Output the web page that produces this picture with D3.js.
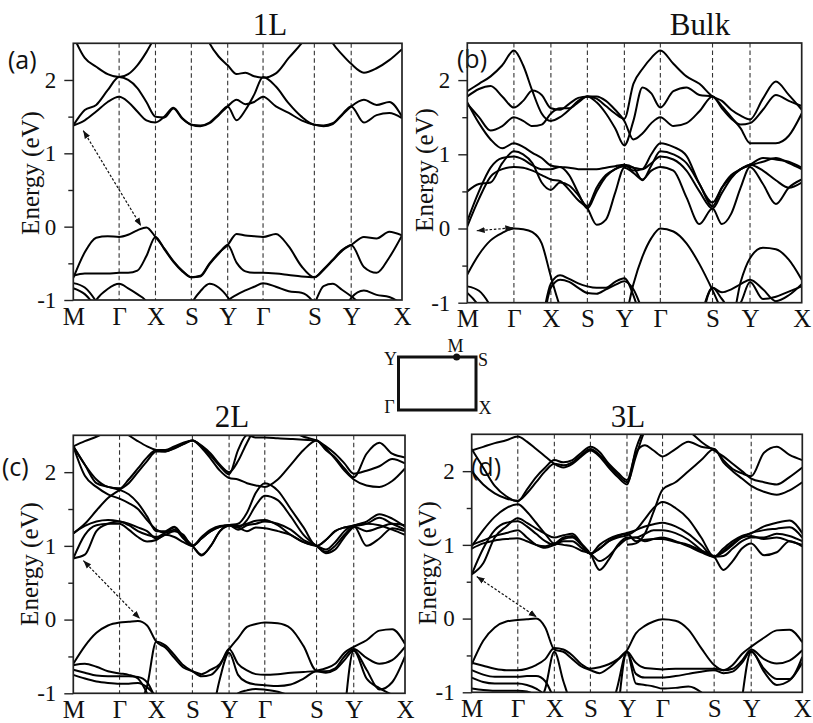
<!DOCTYPE html>
<html>
<head>
<meta charset="utf-8">
<script src="https://cdn.jsdelivr.net/npm/d3@7"></script>
<style>
  body { margin: 0; background: #fff; }
  svg { display: block; }
</style>
</head>
<body>
<svg id="fig" width="813" height="723"></svg>
<script>
// k-path sampling (path length units), high-symmetry nodes and their labels
const kGrid = [0, 11.5, 23, 34.5, 46, 55.1, 64.3, 73.4, 82.5, 91.5, 100.5, 109.5, 118.5,
  127.6, 136.8, 145.9, 155, 163.9, 172.8, 181.6, 190.5, 203.4, 216.3, 229.1, 242,
  251.25, 260.5, 269.75, 279, 291.75, 304.5, 317.25, 330];
const kNodes = [0, 46, 82.5, 118.5, 155, 190.5, 242, 279, 330];
const kLabels = ["M", "Γ", "X", "S", "Y", "Γ", "S", "Y", "X"];
const energyDomain = [-1, 2.5];
const energyTicks = [-1, 0, 1, 2];
const energyMinor = [-0.5, 0.5, 1.5];

// Band energies (eV) sampled on kGrid; null = no sample
const bands1L = [
  [-0.70,-0.35,-0.15,-0.13,-0.14, -0.11,-0.05,-0.01,-0.14, -0.30,-0.47,-0.60,-0.69, -0.67,-0.50,-0.36,-0.25, -0.10,-0.12,-0.13,-0.14, -0.10,-0.27,-0.54,-0.69, -0.58,-0.45,-0.32,-0.25, -0.14,-0.16,-0.07,-0.12],
  [-0.67,-0.64,-0.64,-0.64,-0.63, -0.63,-0.60,-0.40,-0.14, -0.31,-0.48,-0.61,-0.69, -0.68,-0.51,-0.37,-0.25, -0.49,-0.61,-0.63,-0.63, -0.64,-0.66,-0.68,-0.69, -0.59,-0.46,-0.33,-0.25, -0.55,-0.63,-0.42,-0.12],
  [-0.77,-0.83,-1.02,-1.30,null, null,null,null,null, null,null,-1.30,-1.05, -0.88,-0.78,-0.83,-0.96, -1.15,-1.30,null,null, null,null,-1.30,-1.05, -0.81,-0.78,-0.86,-0.95, -1.10,-1.30,null,null],
  [-0.84,-0.92,-1.10,-1.30,null, null,null,null,null, null,null,null,null, null,null,null,null, null,null,null,null, null,null,null,null, null,null,null,null, null,null,null,null],
  [null,-1.30,-1.00,-0.85,-0.78, -0.84,-0.92,-1.02,-1.30, null,null,null,null, null,null,-1.30,-1.02, -0.93,-0.87,-0.82,-0.77, -0.82,-0.88,-0.90,-1.05, -1.30,null,-1.30,-0.97, -0.87,-0.93,-0.96,-1.05],
  [1.38,1.45,1.57,1.70,1.77, 1.70,1.57,1.45,1.42, 1.50,1.62,1.48,1.39, 1.37,1.41,1.52,1.64, 1.73,1.67,1.70,1.77, 1.64,1.55,1.45,1.39, 1.37,1.40,1.52,1.64, 1.73,1.66,1.70,1.50],
  [1.38,1.59,1.66,1.86,2.04, 2.00,1.89,1.70,1.50, 1.49,1.61,1.47,1.39, 1.38,1.42,1.53,1.64, 1.45,1.59,1.80,2.04, 1.91,1.68,1.50,1.39, 1.38,1.41,1.53,1.64, 1.42,1.52,1.55,1.48],
  [2.60,2.30,2.18,2.08,2.04, 2.08,2.20,2.38,2.60, 2.80,null,null,null, 2.80,2.50,2.32,2.20, 2.08,2.10,2.05,2.03, 2.09,2.30,2.50,2.75, 2.75,2.50,2.35,2.22, 2.10,2.16,2.27,2.42]
];

const bandsBulk = [
  [-0.62,-0.35,-0.16,-0.06,0.00, -0.01,-0.05,-0.20,-0.65, -1.05,-1.30,null,null, null,null,-1.40,-1.25, -0.75,-0.38,-0.13,0.00, -0.04,-0.20,-0.48,-0.83, -1.10,-1.25,-0.72,-0.40, -0.26,-0.28,-0.42,-0.69],
  [-0.78,-0.84,-1.05,-1.40,null, null,null,-1.30,-0.74, -0.63,-0.68,-0.74,-0.78, -0.80,-0.80,-0.72,-0.67, -0.90,-1.30,null,null, null,-1.40,-1.20,-0.80, -0.86,-0.82,-0.75,-0.69, -0.82,-0.98,-0.90,-0.75],
  [-0.87,-1.05,-1.40,null,null, null,null,-1.40,-0.80, -0.69,-0.72,-0.80,-0.87, -0.88,-0.82,-0.76,-0.71, -0.82,-1.10,-1.40,null, null,null,-1.40,-0.80, -0.95,-1.10,-1.00,-0.72, -0.95,-0.92,-0.85,-0.78],
  [0.03,0.40,0.70,0.80,0.83, 0.82,0.78,0.72,0.66, 0.64,0.52,0.38,0.27, 0.05,0.12,0.48,0.82, 0.75,0.66,0.78,0.83, 0.78,0.42,0.06,0.27, 0.06,0.20,0.55,0.83, 0.60,0.33,0.55,0.66],
  [0.10,0.50,0.82,0.95,0.97, 0.93,0.85,0.80,0.80, 0.83,0.72,0.48,0.27, 0.50,0.70,0.80,0.84, 0.82,0.80,0.88,0.97, 0.93,0.78,0.50,0.27, 0.48,0.68,0.80,0.85, 0.90,0.95,0.88,0.80],
  [0.50,0.60,0.62,0.88,1.04, 1.00,0.88,0.62,0.52, 0.62,0.58,0.45,0.30, 0.55,0.72,0.80,0.86, 0.82,0.65,0.85,1.04, 1.00,0.88,0.60,0.30, 0.55,0.72,0.80,0.86, 0.78,0.65,0.55,0.62],
  [1.70,1.42,1.20,1.08,1.15, 1.10,1.02,0.95,0.85, 0.83,0.82,0.80,0.80, 0.80,0.82,0.84,0.86, 0.78,0.80,1.00,1.15, 1.10,0.98,0.60,0.35, 0.55,0.70,0.80,0.86, 0.95,0.93,0.90,0.82],
  [1.85,1.95,2.05,2.20,2.40, 2.20,1.85,1.55,1.45, 1.50,1.60,1.72,1.78, 1.75,1.65,1.55,1.48, 1.95,2.15,2.30,2.40, 2.22,2.05,1.95,1.78, 1.72,1.60,1.52,1.47, 1.75,1.98,1.80,1.60],
  [1.78,1.88,1.92,1.78,1.63, 1.72,1.86,1.80,1.62, 1.60,1.68,1.76,1.78, 1.70,1.55,1.35,1.12, 1.45,1.90,1.82,1.63, 1.85,1.90,1.80,1.78, 1.65,1.50,1.35,1.15, 1.15,1.15,1.25,1.55],
  [1.68,1.50,1.32,1.38,1.50, 1.45,1.38,1.40,1.55, 1.62,1.62,1.70,1.78, 1.78,1.72,1.60,1.45, 1.20,1.28,1.42,1.50, 1.38,1.42,1.58,1.78, 1.62,1.48,1.40,1.42, 1.60,1.80,1.72,1.65]
];

const bands2L = [
  [-0.60,-0.36,-0.18,-0.08,-0.04, -0.03,-0.02,-0.08,-0.30, -0.38,-0.52,-0.65,-0.70, -0.74,-0.68,-0.60,-0.40, -0.25,-0.10,-0.06,-0.04, -0.05,-0.12,-0.36,-0.69, -0.66,-0.60,-0.45,-0.37, -0.28,-0.15,-0.13,-0.33],
  [-0.62,-0.60,-0.64,-0.70,-0.73, -0.75,-0.80,-1.00,-1.30, null,null,null,null, null,null,null,null, null,null,null,null, null,null,null,null, null,null,null,null, null,null,null,null],
  [null,null,null,null,null, -1.50,-1.20,-0.90,-0.30, -0.35,-0.48,-0.62,-0.70, -0.77,-0.75,-0.62,-0.40, -0.60,-0.69,-0.74,-0.75, -0.74,-0.72,-0.71,-0.70, -0.70,-0.66,-0.50,-0.40, -0.52,-0.60,-0.55,-0.37],
  [-0.68,-0.72,-0.76,-0.77,-0.77, -0.77,-0.78,-0.85,-1.10, -1.40,null,null,null, null,-1.40,-0.80,-0.45, -0.75,-0.85,-0.88,-0.89, -0.90,-0.88,-0.80,-0.70, -0.72,-0.68,-0.55,-0.42, -0.68,-0.95,-0.85,-0.50],
  [-0.75,-0.80,-0.84,-0.86,-0.87, -0.87,-0.86,-0.92,-1.05, -1.30,null,null,null, null,null,null,-1.30, -1.00,-0.96,-0.94,-0.95, -0.98,-1.05,-1.30,null, null,null,-1.30,-0.42, -0.80,-0.93,-1.02,-1.10],
  [0.83,0.88,1.20,1.30,1.33, 1.28,1.20,1.15,1.12, 1.18,1.25,1.12,1.00, 0.87,1.00,1.20,1.28, 1.22,1.28,1.30,1.33, 1.30,1.22,1.08,1.00, 0.90,0.95,1.12,1.26, 1.33,1.43,1.37,1.26],
  [0.83,1.15,1.28,1.30,1.30, 1.22,1.12,1.06,1.08, 1.15,1.12,1.05,1.00, 1.12,1.22,1.27,1.28, 1.25,1.20,1.25,1.24, 1.20,1.15,1.05,1.00, 1.08,1.20,1.25,1.27, 1.00,1.10,1.24,1.20],
  [1.17,1.27,1.33,1.35,1.33, 1.30,1.25,1.20,1.10, 1.15,1.20,1.15,1.00, 1.10,1.20,1.26,1.28, 1.27,1.30,1.34,1.35, 1.28,1.15,1.05,1.00, 0.95,1.05,1.20,1.28, 1.30,1.28,1.22,1.15],
  [2.35,2.10,1.85,1.80,1.76, 1.70,1.58,1.40,1.20, 1.20,1.26,1.12,1.00, 0.88,1.00,1.20,1.28, 1.30,1.45,1.72,1.85, 1.75,1.50,1.25,1.00, 1.08,1.20,1.25,1.27, 1.30,1.38,1.30,1.22],
  [2.35,1.95,1.80,1.70,1.64, 1.58,1.50,1.35,1.22, 1.18,1.22,1.10,1.00, 1.10,1.20,1.26,1.28, 1.25,1.35,1.55,1.68, 1.62,1.40,1.15,1.00, 0.92,1.00,1.15,1.26, 1.20,1.25,1.30,1.28],
  [2.35,2.10,1.90,1.80,1.78, 1.90,2.05,2.20,2.30, 2.30,2.35,2.40,2.43, 2.35,2.22,2.08,1.97, 2.30,2.50,2.47,2.47, 2.46,2.45,2.44,2.43, 2.30,2.20,2.05,1.93, 2.25,2.40,2.25,2.20],
  [1.17,1.30,1.48,1.65,1.76, 1.85,2.00,2.15,2.28, 2.28,2.33,2.38,2.43, 2.33,2.18,2.02,1.92, 1.90,1.85,1.82,1.80, 1.90,2.10,2.30,2.43, 2.32,2.18,2.02,1.90, 1.82,1.80,1.88,2.05],
  [2.35,2.42,2.48,2.55,2.60, 2.50,2.42,2.35,2.30, 2.28,2.32,2.38,2.43, 2.36,2.25,2.10,2.00, 2.15,2.40,2.60,2.65, 2.60,2.55,2.48,2.43, 2.35,2.25,2.12,1.98, 2.02,2.08,2.18,2.12]
];

const bands3L = [
  [-0.62,-0.30,-0.12,-0.04,-0.02, -0.01,0.00,-0.12,-0.42, -0.45,-0.55,-0.65,-0.70, -0.74,-0.67,-0.56,-0.43, -0.20,-0.10,-0.04,-0.01, -0.03,-0.15,-0.40,-0.63, -0.70,-0.63,-0.48,-0.38, -0.26,-0.16,-0.15,-0.32],
  [-0.60,-0.64,-0.68,-0.70,-0.70, -0.68,-0.63,-0.55,-0.40, -0.42,-0.50,-0.62,-0.68, -0.66,-0.62,-0.55,-0.45, -0.60,-0.67,-0.68,-0.69, -0.68,-0.68,-0.68,-0.68, -0.70,-0.68,-0.57,-0.42, -0.55,-0.61,-0.57,-0.43],
  [-0.70,-0.76,-0.79,-0.79,-0.79, -0.78,-0.78,-0.85,-1.10, -1.40,null,null,null, null,-1.40,-0.90,-0.45, -0.75,-0.80,-0.80,-0.80, -0.78,-0.75,-0.72,-0.70, -0.74,-0.72,-0.60,-0.44, -0.72,-0.90,-0.84,-0.60],
  [-0.80,-0.86,-0.88,-0.88,-0.88, -0.90,-0.95,-1.05,-1.30, null,null,null,null, null,null,-1.30,-0.45, -0.88,-0.90,-0.92,-0.95, -0.94,-0.92,-1.00,-1.20, -1.40,null,-1.10,-0.45, -0.68,-0.82,-0.82,-0.52],
  [null,null,null,null,null, -1.50,-1.25,-0.95,-0.45, -0.85,-1.20,-1.40,null, null,null,null,null, null,null,null,null, null,null,null,null, null,null,null,null, null,null,null,null],
  [-0.95,-0.97,-0.98,-0.98,-0.98, -0.99,-1.05,-1.20,-1.40, null,null,null,null, null,null,null,null, null,null,null,null, null,null,null,null, null,null,null,null, null,null,null,null],
  [0.60,0.75,1.10,1.25,1.36, 1.30,1.22,1.15,1.10, 1.13,1.15,1.02,0.88, 0.66,0.80,1.00,1.10, 1.10,1.15,1.20,1.20, 1.16,1.07,0.93,0.84, 0.95,1.05,1.12,1.16, 1.25,1.30,1.33,1.16],
  [0.60,0.95,1.20,1.30,1.32, 1.25,1.15,1.05,1.00, 1.08,1.10,1.00,0.88, 0.95,1.05,1.12,1.15, 1.05,1.07,1.08,1.08, 1.04,1.00,0.92,0.84, 0.66,0.78,0.95,1.02, 0.86,0.90,1.05,0.98],
  [1.00,1.06,1.12,1.16,1.20, 1.10,1.00,0.96,1.00, 1.05,1.05,0.96,0.88, 1.00,1.08,1.13,1.16, 1.20,1.25,1.28,1.30, 1.25,1.15,1.00,0.84, 0.90,1.00,1.10,1.16, 1.20,1.22,1.24,1.10],
  [0.95,1.02,1.06,1.08,1.09, 1.05,1.00,0.98,1.02, 1.00,0.98,0.92,0.88, 0.78,0.85,0.98,1.08, 1.10,1.05,1.08,1.10, 1.05,0.98,0.90,0.84, 0.85,0.95,1.05,1.10, 1.10,1.15,1.12,1.05],
  [2.30,2.05,1.80,1.66,1.59, 1.75,1.92,2.05,2.15, 2.12,2.15,2.25,2.33, 2.26,2.10,1.98,1.88, 2.25,2.35,2.28,2.20, 2.30,2.40,2.33,2.30, 2.15,2.03,1.97,1.93, 2.25,2.33,2.22,2.15],
  [2.00,1.82,1.70,1.63,1.60, 1.70,1.85,2.00,2.10, 2.08,2.12,2.22,2.30, 2.22,2.08,1.95,1.85, 2.20,2.55,2.70,2.70, 2.65,2.55,2.40,2.28, 2.20,2.10,2.00,1.90, 1.85,1.82,1.92,2.05],
  [0.98,1.20,1.38,1.50,1.55, 1.45,1.30,1.15,1.02, 1.10,1.12,1.00,0.88, 0.95,1.05,1.10,1.13, 1.20,1.35,1.50,1.58, 1.50,1.35,1.10,0.84, 0.92,1.02,1.10,1.12, 1.08,1.10,1.05,1.00],
  [2.28,2.33,2.38,2.42,2.47, 2.40,2.30,2.20,2.10, 2.05,2.10,2.20,2.28, 2.20,2.05,1.92,1.82, 2.30,2.60,null,null, null,null,null,null, null,null,null,null, null,null,null,null],
  [null,null,null,null,null, null,null,null,null, null,null,null,null, null,null,null,1.00, 1.02,1.15,1.45,1.75, 1.85,2.00,2.15,2.30, 2.12,2.00,1.90,1.80, 1.72,1.68,1.74,1.85]
];

// Band-gap arrows: [k, E] at each end
const gap1L   = [[10, 1.31], [68, 0.01]];
const gapBulk = [[9.3, -0.03], [45.4, 0.01]];
const gap2L   = [[10, 0.80], [66.4, 0.01]];
const gap3L   = [[5, 0.57], [64.9, 0.02]];

const SERIF = "'Liberation Serif', 'DejaVu Serif', serif";
const SANS = "'Open Sans', 'Liberation Sans', sans-serif";

const panels = [
  { id: "a", title: "1L",   tag: "(a)", bands: bands1L,   gap: gap1L,
    frame: [73.3, 402, 43.3, 300],   titleAt: [270, 35],  tagAt: [8, 69],   ylabAt: [30, 173] },
  { id: "b", title: "Bulk", tag: "(b)", bands: bandsBulk, gap: gapBulk,
    frame: [467.3, 801.7, 43, 302.7], titleAt: [700, 35], tagAt: [457, 68], ylabAt: [424, 170] },
  { id: "c", title: "2L",   tag: "(c)", bands: bands2L,   gap: gap2L,
    frame: [73.3, 405, 435.3, 693.3], titleAt: [232, 427], tagAt: [2, 476], ylabAt: [29, 564] },
  { id: "d", title: "3L",   tag: "(d)", bands: bands3L,   gap: gap3L,
    frame: [471.7, 802.3, 434.3, 692.3], titleAt: [628, 427], tagAt: [471, 476], ylabAt: [427, 563] }
];

const svg = d3.select("#fig");
const defs = svg.append("defs");
defs.append("marker")
  .attr("id", "tip").attr("viewBox", "0 0 10 10")
  .attr("refX", 10).attr("refY", 5)
  .attr("markerWidth", 8).attr("markerHeight", 8)
  .attr("markerUnits", "userSpaceOnUse")
  .attr("orient", "auto-start-reverse")
  .append("path").attr("d", "M0,1.2L10,5L0,8.8Z").attr("fill", "#111");

panels.forEach(p => {
  const [x0, x1, yt, yb] = p.frame;
  const x = d3.scaleLinear().domain([kGrid[0], kGrid[kGrid.length - 1]]).range([x0, x1]);
  const y = d3.scaleLinear().domain(energyDomain).range([yb, yt]);
  const g = svg.append("g").attr("class", "panel-" + p.id);

  // panel tag (sits under the bands)
  g.append("text").attr("x", p.tagAt[0]).attr("y", p.tagAt[1])
    .attr("font-family", SANS).attr("font-size", 25).attr("fill", "#111")
    .text(p.tag);

  // title
  g.append("text").attr("x", p.titleAt[0]).attr("y", p.titleAt[1])
    .attr("text-anchor", "middle").attr("font-family", SERIF).attr("font-size", 31)
    .attr("fill", "#111").text(p.title);

  const clipId = "clip-" + p.id;
  defs.append("clipPath").attr("id", clipId).append("rect")
    .attr("x", x0).attr("y", yt).attr("width", x1 - x0).attr("height", yb - yt);

  // high-symmetry guide lines
  g.append("g").selectAll("line").data(kNodes.slice(1, -1)).join("line")
    .attr("x1", d => x(d)).attr("x2", d => x(d))
    .attr("y1", yt).attr("y2", yb)
    .attr("stroke", "#333").attr("stroke-width", 1.1).attr("stroke-dasharray", "4.5,3");

  // bands
  const line = d3.line()
    .defined(d => d[1] !== null)
    .x(d => x(d[0])).y(d => y(d[1]))
    .curve(d3.curveMonotoneX);
  g.append("g").attr("clip-path", `url(#${clipId})`)
    .selectAll("path").data(p.bands).join("path")
    .attr("d", b => line(b.map((e, i) => [kGrid[i], e])))
    .attr("fill", "none").attr("stroke", "#000").attr("stroke-width", 2)
    .attr("stroke-linejoin", "round");

  // gap arrow
  g.append("line")
    .attr("x1", x(p.gap[0][0])).attr("y1", y(p.gap[0][1]))
    .attr("x2", x(p.gap[1][0])).attr("y2", y(p.gap[1][1]))
    .attr("stroke", "#111").attr("stroke-width", 1.2).attr("stroke-dasharray", "2.5,1.8")
    .attr("marker-start", "url(#tip)").attr("marker-end", "url(#tip)");

  // frame
  g.append("rect").attr("x", x0).attr("y", yt).attr("width", x1 - x0).attr("height", yb - yt)
    .attr("fill", "none").attr("stroke", "#222").attr("stroke-width", 1.7);

  // energy axis
  const ya = g.append("g").attr("transform", `translate(${x0},0)`).attr("color", "#222")
    .call(d3.axisLeft(y).tickValues(energyTicks).tickSize(9).tickPadding(8).tickFormat(d => String(d)));
  ya.select(".domain").remove();
  ya.selectAll("line").attr("stroke-width", 1.4);
  ya.selectAll("text").attr("font-family", SERIF).attr("font-size", 23).attr("fill", "#111");
  const ym = g.append("g").attr("transform", `translate(${x0},0)`).attr("color", "#222")
    .call(d3.axisLeft(y).tickValues(energyMinor).tickSize(5).tickFormat(""));
  ym.select(".domain").remove();
  ym.selectAll("line").attr("stroke-width", 1.4);

  // k-path axis
  const xa = g.append("g").attr("transform", `translate(0,${yb})`)
    .call(d3.axisBottom(x).tickValues(kNodes).tickSize(0).tickPadding(7)
      .tickFormat((d, i) => kLabels[i]));
  xa.select(".domain").remove();
  xa.selectAll("text").attr("font-family", SERIF).attr("font-size", 25).attr("fill", "#111");

  // energy label
  g.append("text")
    .attr("transform", `translate(${p.ylabAt[0]},${p.ylabAt[1]}) rotate(-90)`)
    .attr("text-anchor", "middle").attr("dy", "0.35em")
    .attr("font-family", SERIF).attr("font-size", 25).attr("fill", "#111")
    .text("Energy (eV)");
});

// Brillouin-zone sketch with the M point on the Y–S edge
const bz = svg.append("g").attr("class", "bz");
const bzBox = { x: 398.5, y: 357, w: 77.5, h: 53 };
bz.append("rect").attr("x", bzBox.x).attr("y", bzBox.y).attr("width", bzBox.w).attr("height", bzBox.h)
  .attr("fill", "none").attr("stroke", "#111").attr("stroke-width", 3);
bz.append("circle").attr("cx", bzBox.x + bzBox.w * 0.75).attr("cy", bzBox.y).attr("r", 3.5).attr("fill", "#111");
const bzLabels = [
  { t: "Y", x: bzBox.x - 8,  y: bzBox.y + 8 },
  { t: "M", x: bzBox.x + bzBox.w * 0.75 - 1, y: bzBox.y - 5 },
  { t: "S", x: bzBox.x + bzBox.w + 7, y: bzBox.y + 9 },
  { t: "Γ", x: bzBox.x - 9, y: bzBox.y + bzBox.h + 3 },
  { t: "X", x: bzBox.x + bzBox.w + 9, y: bzBox.y + bzBox.h + 4 }
];
bz.selectAll("text").data(bzLabels).join("text")
  .attr("x", d => d.x).attr("y", d => d.y).attr("text-anchor", "middle")
  .attr("font-family", SERIF).attr("font-size", 18).attr("fill", "#111")
  .text(d => d.t);
</script>
</body>
</html>
